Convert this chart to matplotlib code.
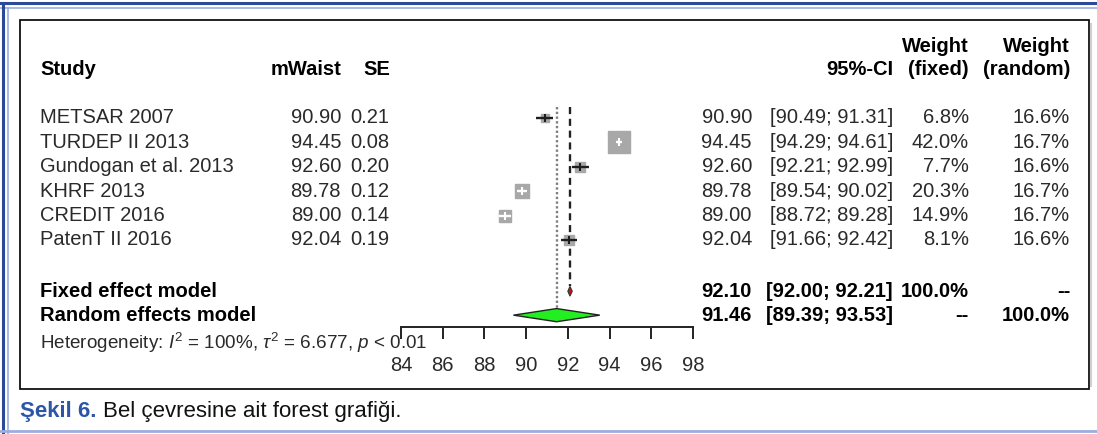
import matplotlib
matplotlib.use("Agg")
import matplotlib.pyplot as plt
import matplotlib.transforms as mtransforms
from matplotlib.patches import Rectangle, Polygon
import numpy as np

plt.rcParams['font.family'] = ['Liberation Sans', 'DejaVu Sans']
plt.rcParams['mathtext.fontset'] = 'custom'
plt.rcParams['mathtext.rm'] = 'Liberation Sans'
plt.rcParams['mathtext.it'] = 'Liberation Sans:italic'

# data
studies = ["METSAR 2007", "TURDEP II 2013", "Gundogan et al. 2013",
           "KHRF 2013", "CREDIT 2016", "PatenT II 2016"]
mwaist = [90.90, 94.45, 92.60, 89.78, 89.00, 92.04]
se = [0.21, 0.08, 0.20, 0.12, 0.14, 0.19]
ci_lo = [90.49, 94.29, 92.21, 89.54, 88.72, 91.66]
ci_hi = [91.31, 94.61, 92.99, 90.02, 89.28, 92.42]
w_fixed = [6.8, 42.0, 7.7, 20.3, 14.9, 8.1]
w_random = [16.6, 16.7, 16.6, 16.7, 16.7, 16.6]

fixed_est, fixed_lo, fixed_hi = 92.10, 92.00, 92.21
rand_est, rand_lo, rand_hi = 91.46, 89.39, 93.53
xticks = [84, 86, 88, 90, 92, 94, 96, 98]

W, H = 1097, 434
fig = plt.figure(figsize=(W / 100, H / 100), dpi=100)

# forest panel, px 401..693 horizontally, box 20..389 vertically
ax = fig.add_axes([401 / W, 1 - 389 / H, 292 / W, 369 / H])
ax.set_xlim(84, 98)
ax.set_ylim((389 - 118) / 24.4, (20 - 118) / 24.4)
ax.patch.set_alpha(0)
for s in ['top', 'left', 'right']:
    ax.spines[s].set_visible(False)
ax.spines['bottom'].set_position(('data', 8.57))
ax.spines['bottom'].set_bounds(84, 98)
ax.spines['bottom'].set_linewidth(1.4)
ax.spines['bottom'].set_color('#222222')
ax.set_xticks(xticks)
ax.set_xticklabels([str(t) for t in xticks])
ax.set_yticks([])
ax.tick_params(axis='x', direction='out', length=8.6, width=1.4, pad=12,
               labelsize=14.5, labelcolor='#2a2a2a', color='#222222')

rows = np.arange(len(studies))
y_fixed, y_rand = 7.1, 8.08
px_per_unit = 292 / 14.0

# reference lines
ax.vlines(fixed_est, -0.45, y_fixed - 0.2, colors='#222222', linestyles=(0, (3, 2)), lw=1.7)
ax.vlines(rand_est, -0.45, y_rand - 0.27, colors='#808080', linestyles=(0, (1, 1)), lw=1.7)

# study squares and CIs
for i in rows:
    side_px = 3.3 * np.sqrt(w_fixed[i])
    half = side_px / 2 / px_per_unit
    inside = half > (ci_hi[i] - ci_lo[i]) / 2
    ax.plot(mwaist[i], i, marker='s', ms=side_px * 0.72, mfc='#a8a8a8',
            mec='#a8a8a8', ls='none', zorder=2)
    col = 'white' if inside else '#1e1e1e'
    ax.hlines(i, ci_lo[i], ci_hi[i], colors=col if inside else '#1e1e1e', lw=1.7, zorder=3)
    ax.plot(mwaist[i], i, marker='|', ms=6, mew=1.5, color=col, zorder=4)

# summary diamonds
ax.add_patch(Polygon([[fixed_lo, y_fixed], [fixed_est, y_fixed - 0.2],
                      [fixed_hi, y_fixed], [fixed_est, y_fixed + 0.2]],
                     closed=True, fc='#d01010', ec='#333333', lw=0.8, zorder=5))
ax.add_patch(Polygon([[rand_lo, y_rand], [rand_est, y_rand - 0.27],
                      [rand_hi, y_rand], [rand_est, y_rand + 0.27]],
                     closed=True, fc='#22ee22', ec='#222222', lw=1.0, zorder=5))

# text columns: x in figure pixels, y in forest rows
tr = mtransforms.blended_transform_factory(fig.transFigure, ax.transData)
fs = 14.5
tc = '#2a2a2a'


def put(xpx, y, s, ha='left', bold=False, color=None, size=fs):
    fig.text(xpx / W, y, s, transform=tr, ha=ha, va='center', fontsize=size,
             fontweight='bold' if bold else 'normal',
             color=color or ('black' if bold else tc))


y_h1, y_h2 = -2.95, -1.97
put(40, y_h2, "Study", bold=True)
put(341, y_h2, "mWaist", ha='right', bold=True)
put(390, y_h2, "SE", ha='right', bold=True)
put(893, y_h2, "95%-CI", ha='right', bold=True)
put(969, y_h1, "Weight", ha='right', bold=True)
put(969, y_h2, "(fixed)", ha='right', bold=True)
put(1070, y_h1, "Weight", ha='right', bold=True)
put(1070, y_h2, "(random)", ha='right', bold=True)

for i in rows:
    put(40, i, studies[i])
    put(341, i, "%.2f" % mwaist[i], ha='right')
    put(389, i, "%.2f" % se[i], ha='right')
    put(752, i, "%.2f" % mwaist[i], ha='right')
    put(893, i, "[%.2f; %.2f]" % (ci_lo[i], ci_hi[i]), ha='right')
    put(969, i, "%.1f%%" % w_fixed[i], ha='right')
    put(1070, i, "%.1f%%" % w_random[i], ha='right')

put(40, y_fixed, "Fixed effect model", bold=True)
put(752, y_fixed, "%.2f" % fixed_est, ha='right', bold=True)
put(893, y_fixed, "[%.2f; %.2f]" % (fixed_lo, fixed_hi), ha='right', bold=True)
put(969, y_fixed, "100.0%", ha='right', bold=True)
put(1070, y_fixed, "--", ha='right', bold=True)

put(40, y_rand, "Random effects model", bold=True)
put(752, y_rand, "%.2f" % rand_est, ha='right', bold=True)
put(893, y_rand, "[%.2f; %.2f]" % (rand_lo, rand_hi), ha='right', bold=True)
put(969, y_rand, "--", ha='right', bold=True)
put(1070, y_rand, "100.0%", ha='right', bold=True)

put(40, 9.23, r"Heterogeneity: $I^2$ = 100%, $\tau^2$ = 6.677, $p$ < 0.01", size=13.6)

# inner frame and outer page border
fig.patches.append(Rectangle((20 / W, 1 - 389 / H), 1069 / W, 369 / H,
                             transform=fig.transFigure, fill=False,
                             ec='#111111', lw=1.3))
fig.add_artist(plt.Line2D([1091 / W] * 2, [1 - 386 / H, 1 - 24 / H], color='#d0d0d0', lw=1.5))
fig.add_artist(plt.Line2D([0, 1], [1 - 3 / H] * 2, color='#2b4a9c', lw=2.2))
fig.add_artist(plt.Line2D([0, 1], [1 - 8 / H] * 2, color='#9aaee0', lw=1.2))
fig.add_artist(plt.Line2D([3 / W] * 2, [0, 1 - 3 / H], color='#2b4a9c', lw=2.2))
fig.add_artist(plt.Line2D([8 / W] * 2, [0, 1 - 8 / H], color='#9aaee0', lw=1.2))
fig.add_artist(plt.Line2D([0, 1], [3 / H] * 2, color='#9aaee0', lw=2.0))

# caption
fig.text(20 / W, 1 - 411 / H, "Şekil 6.", ha='left', va='center', fontsize=16,
         fontweight='bold', color='#2d56a8')
fig.text(103 / W, 1 - 411 / H, "Bel çevresine ait forest grafiği.", ha='left',
         va='center', fontsize=16, color='#111111')

fig.savefig("out.png", dpi=100)
